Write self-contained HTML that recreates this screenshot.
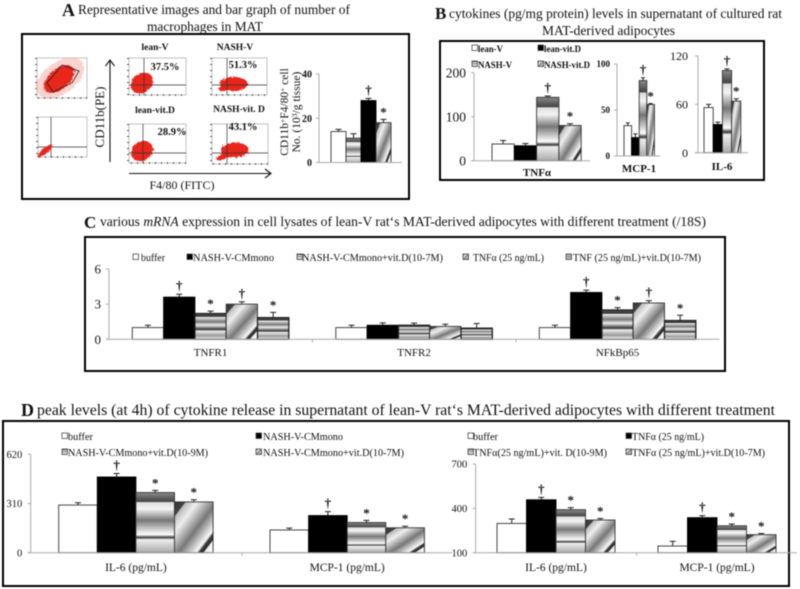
<!DOCTYPE html>
<html>
<head>
<meta charset="utf-8">
<style>
html,body{margin:0;padding:0;background:#fff;}
svg{display:block;font-family:"Liberation Serif",serif;filter:blur(0.4px);}
text{fill:#111;}
.b{font-weight:bold;}
.panel{fill:none;stroke:#000;stroke-width:2;}
.pbox{fill:#fff;stroke:#999;stroke-width:.6;}
.ptick{fill:none;stroke:#333;stroke-width:1.6;stroke-dasharray:1 5;}
.cross{stroke:#333;stroke-width:.7;fill:none;}
.blob{fill:#e8261c;filter:url(#rough);}
.halo{fill:#f4a89f;filter:url(#rough);opacity:.5;}
</style>
</head>
<body>
<svg id="fig" width="800" height="589" viewBox="0 0 800 589" xmlns="http://www.w3.org/2000/svg">
<defs>
<linearGradient id="hstripe" x1="0" y1="0" x2="0" y2="1">
<stop offset="0" stop-color="#8a8a8a"/><stop offset=".15" stop-color="#444"/><stop offset=".165" stop-color="#ddd"/><stop offset=".27" stop-color="#f4f4f4"/><stop offset=".46" stop-color="#777"/><stop offset=".7" stop-color="#fff"/><stop offset=".75" stop-color="#333"/><stop offset=".78" stop-color="#eee"/><stop offset="1" stop-color="#aaa"/>
</linearGradient>
<linearGradient id="hstripe2" x1="0" y1="0" x2="0" y2="1">
<stop offset="0" stop-color="#555"/><stop offset=".12" stop-color="#333"/><stop offset=".14" stop-color="#eee"/><stop offset=".32" stop-color="#777"/><stop offset=".45" stop-color="#eee"/><stop offset=".62" stop-color="#333"/><stop offset=".68" stop-color="#eee"/><stop offset=".86" stop-color="#999"/><stop offset="1" stop-color="#fff"/>
</linearGradient>
<linearGradient id="diag" x1="0" y1="0" x2="1" y2="1">
<stop offset="0" stop-color="#333"/><stop offset=".14" stop-color="#444"/><stop offset=".15" stop-color="#bbb"/><stop offset=".3" stop-color="#eee"/><stop offset=".55" stop-color="#777"/><stop offset=".78" stop-color="#fafafa"/><stop offset=".82" stop-color="#333"/><stop offset=".87" stop-color="#333"/><stop offset=".88" stop-color="#eee"/><stop offset="1" stop-color="#fff"/>
</linearGradient>
<filter id="rough" x="-20%" y="-20%" width="140%" height="140%">
<feTurbulence type="fractalNoise" baseFrequency="0.5" numOctaves="2" seed="4"/>
<feDisplacementMap in="SourceGraphic" scale="4"/>
</filter>
</defs>

<!-- Titles -->
<text x="62" y="16" class="b" font-size="18">A</text>
<text x="78" y="14" font-size="13.500" textLength="272" lengthAdjust="spacingAndGlyphs">Representative images and bar graph of number of</text>
<text x="147" y="31" font-size="13.500" textLength="116" lengthAdjust="spacingAndGlyphs">macrophages in MAT</text>
<text x="435" y="19" class="b" font-size="17">B</text>
<text x="449" y="18" font-size="14" textLength="333" lengthAdjust="spacingAndGlyphs">cytokines (pg/mg protein) levels in supernatant of cultured rat</text>
<text x="542" y="35" font-size="14" textLength="133" lengthAdjust="spacingAndGlyphs">MAT-derived adipocytes</text>
<text x="84" y="228" class="b" font-size="17">C</text>
<text x="100" y="226" font-size="13.500" textLength="606" lengthAdjust="spacingAndGlyphs">various  <tspan font-style="italic">mRNA</tspan> expression in cell lysates of lean-V rat‘s MAT-derived adipocytes with different treatment  (/18S)</text>
<text x="21" y="416" class="b" font-size="18">D</text>
<text x="37" y="415" font-size="15.500" textLength="738" lengthAdjust="spacingAndGlyphs">peak levels (at 4h) of cytokine release in supernatant of lean-V rat‘s  MAT-derived adipocytes with different treatment</text>

<!-- Panel frames -->
<rect class="panel" x="22" y="34" width="387" height="165"/>
<rect class="panel" x="440" y="41" width="324" height="139"/>
<rect class="panel" x="85" y="237" width="640" height="134"/>
<rect class="panel" x="3" y="421" width="786" height="165"/>

<!-- Flow plots -->
<g>
<rect class="pbox" x="37" y="58" width="50" height="40"/>
<path class="ptick" d="M36 58V98H87"/>
<ellipse class="halo" cx="60" cy="78" rx="27" ry="16" transform="rotate(-35 60 78)"/>
<ellipse class="blob" cx="59" cy="79" rx="18" ry="10" transform="rotate(-40 59 79)"/>
<path d="M62 65L79 71L72 83L53 92L47 83Z" fill="none" stroke="#222" stroke-width=".8"/>
</g>
<g>
<rect class="pbox" x="38" y="117" width="49" height="40"/>
<path class="ptick" d="M37 117V157H87"/>
<path class="cross" d="M51 117V157M38 147H87"/>
<ellipse class="blob" cx="45" cy="151" rx="9" ry="2.800" transform="rotate(-42 45 151)"/>
</g>
<g>
<rect class="pbox" x="129" y="58" width="57" height="37"/>
<path class="ptick" d="M128 58V95H186"/>
<ellipse class="blob" cx="142" cy="83" rx="12" ry="9.500" transform="rotate(-35 142 83)"/>
<path class="cross" d="M144 58V95M129 85H186"/>
</g>
<g>
<rect class="pbox" x="212" y="58" width="55" height="37"/>
<path class="ptick" d="M211 58V95H267"/>
<ellipse class="blob" cx="234" cy="84" rx="14" ry="7"/>
<ellipse class="blob" cx="225" cy="87" rx="7" ry="3.500" transform="rotate(-25 225 87)"/>
<path class="cross" d="M227 58V95M212 85H267"/>
</g>
<g>
<rect class="pbox" x="129" y="124" width="57" height="39"/>
<path class="ptick" d="M128 124V163H186"/>
<ellipse class="blob" cx="142" cy="151" rx="11.500" ry="9.500" transform="rotate(-35 142 151)"/>
<path class="cross" d="M143 124V163M129 153H186"/>
</g>
<g>
<rect class="pbox" x="212" y="124" width="56" height="40"/>
<path class="ptick" d="M211 124V164H268"/>
<ellipse class="blob" cx="235" cy="150" rx="14" ry="7.500"/>
<ellipse class="blob" cx="224" cy="156" rx="8" ry="3" transform="rotate(-25 224 156)"/>
<path class="cross" d="M227 124V164M212 153H268"/>
</g>
<text x="155" y="50" class="b" font-size="9.500" text-anchor="middle">lean-V</text>
<text x="235" y="50" class="b" font-size="9.500" text-anchor="middle">NASH-V</text>
<text x="155" y="113" class="b" font-size="9.500" text-anchor="middle">lean-vit.D</text>
<text x="239" y="112" class="b" font-size="9.500" text-anchor="middle">NASH-vit. D</text>
<text x="165" y="70" class="b" font-size="10.500" text-anchor="middle">37.5%</text>
<text x="243" y="68" class="b" font-size="10.500" text-anchor="middle">51.3%</text>
<text x="172" y="135" class="b" font-size="10.500" text-anchor="middle">28.9%</text>
<text x="243" y="130" class="b" font-size="10.500" text-anchor="middle">43.1%</text>
<text transform="translate(104 117) rotate(-90)" font-size="13" text-anchor="middle">CD11b(PE)</text>
<path d="M110 162V60M105.500 66L110 60L114.500 66" fill="none" stroke="#111" stroke-width="1.100"/>
<path d="M129 173.500H271M265 169L271 173.500L265 178" fill="none" stroke="#111" stroke-width="1.100"/>
<text x="182" y="189" font-size="12" text-anchor="middle">F4/80 (FITC)</text>

<text transform="translate(288 112) rotate(-90)" font-size="11.500" text-anchor="middle">CD11b<tspan font-size="7.500" dy="-3">+</tspan><tspan dy="3">F4/80</tspan><tspan font-size="7.500" dy="-3">+</tspan><tspan dy="3"> cell</tspan></text>
<text transform="translate(300 112) rotate(-90)" font-size="11.500" text-anchor="middle">No. (10<tspan font-size="7.500" dy="-3">3</tspan><tspan dy="3">/g tissue)</tspan></text>

<g id="charts"></g>
<g id="legends"></g>
</svg>

<script>
/* Panel A */
const aCategories = [''];
const aValues = [[14, 11, 28, 18]];
const aErrors = [[1, 2, 1, 1.5]];
const aMarks = [['', '', '†', '*']];
const aTicks = [0, 20, 40];
/* Panel B */
const tnfCategories = ['TNFα'];
const tnfValues = [[38, 34, 144, 80]];
const tnfErrors = [[8, 5, 3, 4]];
const tnfMarks = [['', '', '†', '*']];
const tnfTicks = [0, 100, 200];
const mcpCategories = ['MCP-1'];
const mcpValues = [[33, 20, 82, 56]];
const mcpErrors = [[3, 4, 3, 1]];
const mcpMarks = [['', '', '†', '*']];
const mcpTicks = [0, 50, 100];
const il6Categories = ['IL-6'];
const il6Values = [[56, 35, 102, 64]];
const il6Errors = [[4, 3, 2, 3]];
const il6Marks = [['', '', '†', '*']];
const il6Ticks = [0, 60, 120];
/* Panel C */
const cCategories = ['TNFR1', 'TNFR2', 'NFkBp65'];
const cValues = [[1, 3.6, 2.2, 3, 1.85], [1, 1.2, 1.2, 1.1, 0.95], [1, 4, 2.5, 3.1, 1.6]];
const cErrors = [[0.2, 0.25, 0.2, 0.2, 0.45], [0.2, 0.2, 0.18, 0.18, 0.4], [0.2, 0.2, 0.2, 0.2, 0.45]];
const cMarks = [['', '†', '*', '†', '*'], ['', '', '', '', ''], ['', '†', '*', '†', '*']];
const cTicks = [0, 3, 6];
/* Panel D left */
const dlCategories = ['IL-6 (pg/mL)', 'MCP-1 (pg/mL)'];
const dlValues = [[300, 477, 379, 320], [143, 234, 190, 157]];
const dlErrors = [[15, 22, 14, 14], [12, 25, 14, 10]];
const dlMarks = [['', '†', '*', '*'], ['', '†', '*', '*']];
const dlTicks = [0, 310, 620];
/* Panel D right */
const drCategories = ['IL-6 (pg/mL)', 'MCP-1 (pg/mL)'];
const drValues = [[298, 458, 391, 321], [145, 337, 282, 222]];
const drErrors = [[30, 16, 14, 10], [32, 14, 12, 8]];
const drMarks = [['', '†', '*', '*'], ['', '†', '*', '*']];
const drTicks = [100, 400, 700];

const NS = 'http://www.w3.org/2000/svg';
const chartsLayer = document.getElementById('charts');
const legendsLayer = document.getElementById('legends');
const FILLS = {white: '#fff', black: '#000', h: 'url(#hstripe)', d: 'url(#diag)', h2: 'url(#hstripe2)'};

function make(tag, attrs, parent) {
  const el = document.createElementNS(NS, tag);
  for (const k in attrs) el.setAttribute(k, attrs[k]);
  parent.appendChild(el);
  return el;
}

function drawChart(c) {
  const g = make('g', {}, chartsLayer);
  
  
  const yScale = v => c.y0 - (v - c.min) / (c.max - c.min) * (c.y0 - c.yTop);
  const groupStart = i => c.barStart + i * c.groupStep;
  const barX = (i, j) => groupStart(i) + j * c.barW;

  const yAxis = make('line', {x1: c.x0, x2: c.x0, y1: c.yTop, y2: c.y0, stroke: '#aaa', 'stroke-width': 1}, g);
  
  

  c.ticks.forEach(t => {
    const y = yScale(t);
    const mark = make('line', {x1: c.x0 - 3, x2: c.x0, y1: y, y2: y, stroke: '#aaa', 'stroke-width': 1}, g);
    
    
    const label = make('text', {x: c.x0 - c.tickGap, y: y + c.tickFont * 0.35, 'font-size': c.tickFont, 'text-anchor': 'end', 'font-weight': c.tickBold ? 'bold' : 'normal'}, g);
    
    
    label.textContent = t;
  });

  c.values.forEach((group, i) => {
    group.forEach((v, j) => {
      const x = barX(i, j);
      const top = yScale(v);
      const errTop = yScale(v + c.errors[i][j]);
      const mid = x + c.barW / 2;
      const err = make('path', {d: 'M' + mid + ' ' + top + 'V' + errTop + 'M' + (mid - c.cap) + ' ' + errTop + 'H' + (mid + c.cap), stroke: '#222', 'stroke-width': 1, fill: 'none'}, g);
      
      
      const bar = make('rect', {x: x, y: top, width: c.barW, height: c.y0 - top, fill: FILLS[c.fills[j]], stroke: c.fills[j] === 'black' ? '#000' : c.fills[j] === 'h2' ? '#222' : '#333', 'stroke-width': c.fills[j] === 'h2' ? 1.3 : 0.9}, g);
      
      
      const sym = c.marks[i][j];
      if (sym) {
        const m = make('text', {x: mid, y: errTop - (sym === '*' ? c.starGap : c.daggerGap), 'font-size': c.markFont, 'font-weight': 'bold', 'text-anchor': 'middle'}, g);
        
        
        m.textContent = sym;
      }
    });
    const label = c.categories[i];
    if (label) {
      const t = make('text', {x: c.labelX ? c.labelX[i] : groupStart(i) + c.barW * group.length / 2, y: c.labelY, 'font-size': c.labelFont, 'text-anchor': 'middle', 'font-weight': c.labelBold ? 'bold' : 'normal'}, g);
      
      
      t.textContent = label;
    }
  });

  const xAxis = make('line', {x1: c.x0 - 3, x2: c.xEnd, y1: c.y0, y2: c.y0, stroke: '#aaa', 'stroke-width': 1}, g);
  
  
  for (let i = 1; i < c.values.length; i++) {
    const tx = c.x0 + i * c.groupStep;
    const tick = make('line', {x1: tx, x2: tx, y1: c.y0, y2: c.y0 + 3, stroke: '#aaa', 'stroke-width': 1}, g);
    
    
  }
}

function legendEntry(sx, tx, tw, y, label, fill, size, bold) {
  const g = make('g', {}, legendsLayer);
  
  
  const swatch = make('rect', {x: sx, y: y - 7, width: 5.5, height: 5.5, fill: FILLS[fill], stroke: '#333', 'stroke-width': 0.7}, g);
  
  
  const t = make('text', {x: tx, y: y, 'font-size': size, textLength: tw, lengthAdjust: 'spacingAndGlyphs', 'font-weight': bold ? 'bold' : 'normal'}, g);
  
  
  t.textContent = label;
}

const base = {min: 0, cap: 3, tickFont: 10, tickGap: 7, starGap: 3, daggerGap: 4, markFont: 13, labelFont: 12};

drawChart({...base, name: 'panel-a-bar-chart', categories: aCategories, values: aValues, errors: aErrors, marks: aMarks, ticks: aTicks, max: 40, x0: 319, xEnd: 402, y0: 162.5, yTop: 74, barStart: 331, barW: 15, groupStep: 0, fills: ['white', 'h', 'black', 'd'], tickBold: true, tickFont: 10});
drawChart({...base, name: 'panel-b-tnf-chart', categories: tnfCategories, values: tnfValues, errors: tnfErrors, marks: tnfMarks, ticks: tnfTicks, max: 200, x0: 474, xEnd: 590, y0: 160.7, yTop: 72.7, barStart: 492, barW: 22.3, groupStep: 0, fills: ['white', 'black', 'h', 'd'], tickFont: 13.5, tickGap: 8, labelBold: true, labelY: 176, labelX: [537], labelFont: 11});
drawChart({...base, name: 'panel-b-mcp-chart', categories: mcpCategories, values: mcpValues, errors: mcpErrors, marks: mcpMarks, ticks: mcpTicks, max: 100, x0: 617, xEnd: 660, y0: 156, yTop: 64, barStart: 624, barW: 7.6, groupStep: 0, fills: ['white', 'black', 'h', 'd'], cap: 2, tickBold: true, tickFont: 9, labelBold: true, labelY: 172, labelX: [639], labelFont: 11});
drawChart({...base, name: 'panel-b-il6-chart', categories: il6Categories, values: il6Values, errors: il6Errors, marks: il6Marks, ticks: il6Ticks, max: 120, x0: 698, xEnd: 748, y0: 152.7, yTop: 56, barStart: 704, barW: 9.2, groupStep: 0, fills: ['white', 'black', 'h', 'd'], cap: 2.5, tickFont: 12, tickGap: 10, labelBold: true, labelY: 170, labelX: [722], labelFont: 11});
drawChart({...base, name: 'panel-c-bar-chart', categories: cCategories, values: cValues, errors: cErrors, marks: cMarks, ticks: cTicks, max: 6, x0: 109, xEnd: 719.5, y0: 339.3, yTop: 269, barStart: 132.3, barW: 31.3, groupStep: 203.5, fills: ['white', 'black', 'h2', 'd', 'h2'], tickFont: 13, tickGap: 8, labelY: 356, labelFont: 11});
drawChart({...base, name: 'panel-d-left-chart', categories: dlCategories, values: dlValues, errors: dlErrors, marks: dlMarks, ticks: dlTicks, max: 620, x0: 30.7, xEnd: 452, y0: 552.7, yTop: 454.3, barStart: 58.7, barW: 38.6, groupStep: 211.3, fills: ['white', 'black', 'h', 'd'], tickFont: 10.5, tickGap: 8.5, labelY: 571, labelFont: 11.5});
drawChart({...base, name: 'panel-d-right-chart', categories: drCategories, values: drValues, errors: drErrors, marks: drMarks, ticks: drTicks, min: 100, max: 700, x0: 475.7, xEnd: 797, y0: 552.7, yTop: 464, barStart: 497, barW: 29.5, groupStep: 161, fills: ['white', 'black', 'h', 'd'], tickFont: 10.5, tickGap: 8.5, labelY: 571, labelFont: 11.5});

legendEntry(472, 478, 25, 52, 'lean-V', 'white', 9, true);
legendEntry(538, 544, 37, 52, 'lean-vit.D', 'black', 9, true);
legendEntry(472, 478, 34, 68, 'NASH-V', 'h', 9, true);
legendEntry(538, 544, 46, 68, 'NASH-vit.D', 'd', 9, true);

legendEntry(133, 141, 24, 261, 'buffer', 'white', 11);
legendEntry(187, 193, 81, 261, 'NASH-V-CMmono', 'black', 11);
legendEntry(297, 302, 141, 261, 'NASH-V-CMmono+vit.D(10-7M)', 'h', 11);
legendEntry(463, 473, 71, 261, 'TNFα (25 ng/mL)', 'd', 11);
legendEntry(566, 573, 128, 261, 'TNF (25 ng/mL)+vit.D(10-7M)', 'h2', 11);

legendEntry(62, 68, 25, 440, 'buffer', 'white', 11);
legendEntry(256, 263, 80, 440, 'NASH-V-CMmono', 'black', 11);
legendEntry(62, 68, 140, 456, 'NASH-V-CMmono+vit.D(10-9M)', 'h', 11);
legendEntry(256, 263, 141, 456, 'NASH-V-CMmono+vit.D(10-7M)', 'd', 11);
legendEntry(468, 473, 25, 440, 'buffer', 'white', 11);
legendEntry(626, 632, 72, 440, 'TNFα (25 ng/mL)', 'black', 11);
legendEntry(468, 473, 134, 456, 'TNFα(25 ng/mL)+vit. D(10-9M)', 'h', 11);
legendEntry(626, 632, 133, 456, 'TNFα (25 ng/mL)+vit.D(10-7M)', 'd', 11);
</script>
</body>
</html>
